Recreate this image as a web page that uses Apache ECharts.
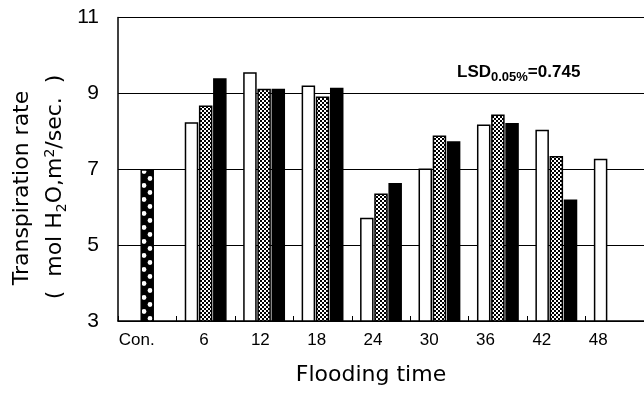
<!DOCTYPE html>
<html>
<head>
<meta charset="utf-8">
<script src="https://cdn.jsdelivr.net/npm/echarts@6/dist/echarts.min.js"></script>
<style>html,body{margin:0;padding:0;background:#fff}#c{width:644px;height:403px}</style>
</head>
<body>
<div id="c"></div>
<script>
const categories = ['Con.', '6', '12', '18', '24', '30', '36', '42', '48'];
const controlValues = [7.0, '-', '-', '-', '-', '-', '-', '-', '-'];
const seriesWhite = ['-', 8.24, 9.56, 9.21, 5.72, 7.02, 8.18, 8.04, 7.28];
const seriesGrey  = ['-', 8.68, 9.12, 8.92, 6.36, 7.89, 8.44, 7.35, '-'];
const seriesBlack = ['-', 9.40, 9.12, 9.15, 6.64, 7.74, 8.22, 6.20, '-'];
const yTicks = { min: 3, max: 11, interval: 2 };

function checker() {
  const c = document.createElement('canvas');
  c.width = 4; c.height = 4;
  const g = c.getContext('2d');
  g.fillStyle = '#fff'; g.fillRect(0, 0, 4, 4);
  g.fillStyle = '#000'; g.fillRect(0, 0, 2, 2); g.fillRect(2, 2, 2, 2);
  return c;
}
function dots() {
  const c = document.createElement('canvas');
  c.width = 14; c.height = 14;
  const g = c.getContext('2d');
  g.fillStyle = '#000'; g.fillRect(0, 0, 14, 14);
  g.fillStyle = '#fff';
  g.beginPath(); g.arc(4, 3.5, 2.4, 0, Math.PI * 2); g.fill();
  g.beginPath(); g.arc(10, 10.5, 2.4, 0, Math.PI * 2); g.fill();
  return c;
}

const chart = echarts.init(document.getElementById('c'), null, { renderer: 'canvas' });
const F = 'Liberation Sans, Arial, sans-serif';
const FW = 'DejaVu Sans, sans-serif';
const BW = 13.5;

chart.setOption({
  backgroundColor: '#fff',
  animation: false,
  grid: [
    { left: 118, top: 17.5, width: 527, height: 303.5 },
    { left: 119.6, top: 17.5, width: 506.7, height: 303.5 }
  ],
  xAxis: [{
    type: 'category', data: categories, gridIndex: 0,
    axisLine: { show: true, lineStyle: { color: '#000', width: 1.5 } },
    axisTick: { show: true, inside: true, length: 5, interval: 0, lineStyle: { color: '#000', width: 1 } },
    axisLabel: { show: false },
    splitLine: { show: false }
  }, {
    type: 'category', data: categories, gridIndex: 1,
    axisLine: { show: false }, axisTick: { show: false }, splitLine: { show: false },
    axisLabel: {
      show: true, interval: 0, color: '#000', fontSize: 17, fontFamily: F, margin: 11,
      formatter: function (v, i) { return i === 0 ? '{c|' + v + '}' : v; },
      rich: { c: { fontSize: 17, fontFamily: F, color: '#000', padding: [0, 22, 0, 0] } }
    }
  }],
  yAxis: [{
    type: 'value', gridIndex: 0, min: yTicks.min, max: yTicks.max, interval: yTicks.interval,
    axisLine: { show: true, lineStyle: { color: '#000', width: 1.5 } },
    axisTick: { show: false },
    axisLabel: { color: '#000', fontSize: 21, fontFamily: F, margin: 19 },
    splitLine: { show: true, lineStyle: { color: '#000', width: 1.2 } }
  }, {
    type: 'value', gridIndex: 1, min: yTicks.min, max: yTicks.max, show: false
  }],
  series: [
    { type: 'bar', name: 'a', data: seriesWhite, barWidth: BW, barGap: '5%',
      itemStyle: { color: '#fff', borderColor: '#000', borderWidth: 1.5 } },
    { type: 'bar', name: 'b', stack: 'mid', data: seriesGrey, barWidth: BW, barGap: '5%',
      itemStyle: { color: { image: checker(), repeat: 'repeat' }, borderColor: '#000', borderWidth: 1.5 } },
    { type: 'bar', name: 'c', data: seriesBlack, barWidth: BW, barGap: '5%',
      itemStyle: { color: '#000', borderColor: '#000', borderWidth: 1.5 } },
    { type: 'bar', name: 'con', stack: 'mid', data: controlValues, barWidth: BW, barGap: '5%',
      itemStyle: { color: { image: dots(), repeat: 'repeat' }, borderColor: '#000', borderWidth: 1.5 } }
  ],
  graphic: [
    { type: 'text', x: 22, y: 188, rotation: Math.PI / 2,
      style: { text: 'Transpiration rate', font: '22px ' + FW, fill: '#000', align: 'center', verticalAlign: 'middle' } },
    { type: 'text', x: 55, y: 187, rotation: Math.PI / 2,
      style: {
        text: '{n|(  mol H}{s|2}{n|O,m}{p|2}{n|/sec.  )}', align: 'center', verticalAlign: 'middle',
        rich: {
          n: { fontSize: 22, fontFamily: FW, fill: '#000', lineHeight: 30 },
          s: { fontSize: 14, fontFamily: FW, fill: '#000', verticalAlign: 'bottom', lineHeight: 30, padding: [0, 0, 1, 0] },
          p: { fontSize: 14, fontFamily: FW, fill: '#000', verticalAlign: 'top', lineHeight: 30, padding: [3, 0, 0, 0] }
        }
      } },
    { type: 'text', x: 371, y: 375,
      style: { text: 'Flooding time', font: '22px ' + FW, fill: '#000', align: 'center', verticalAlign: 'middle' } },
    { type: 'text', x: 457, y: 72,
      style: {
        text: '{a|LSD}{b|0.05%}{a|=0.745}', align: 'left', verticalAlign: 'middle',
        rich: {
          a: { fontSize: 17, fontWeight: 'bold', fontFamily: F, fill: '#000', lineHeight: 24 },
          b: { fontSize: 13, fontWeight: 'bold', fontFamily: F, fill: '#000', verticalAlign: 'bottom', lineHeight: 24 }
        }
      } }
  ]
});
</script>
</body>
</html>
